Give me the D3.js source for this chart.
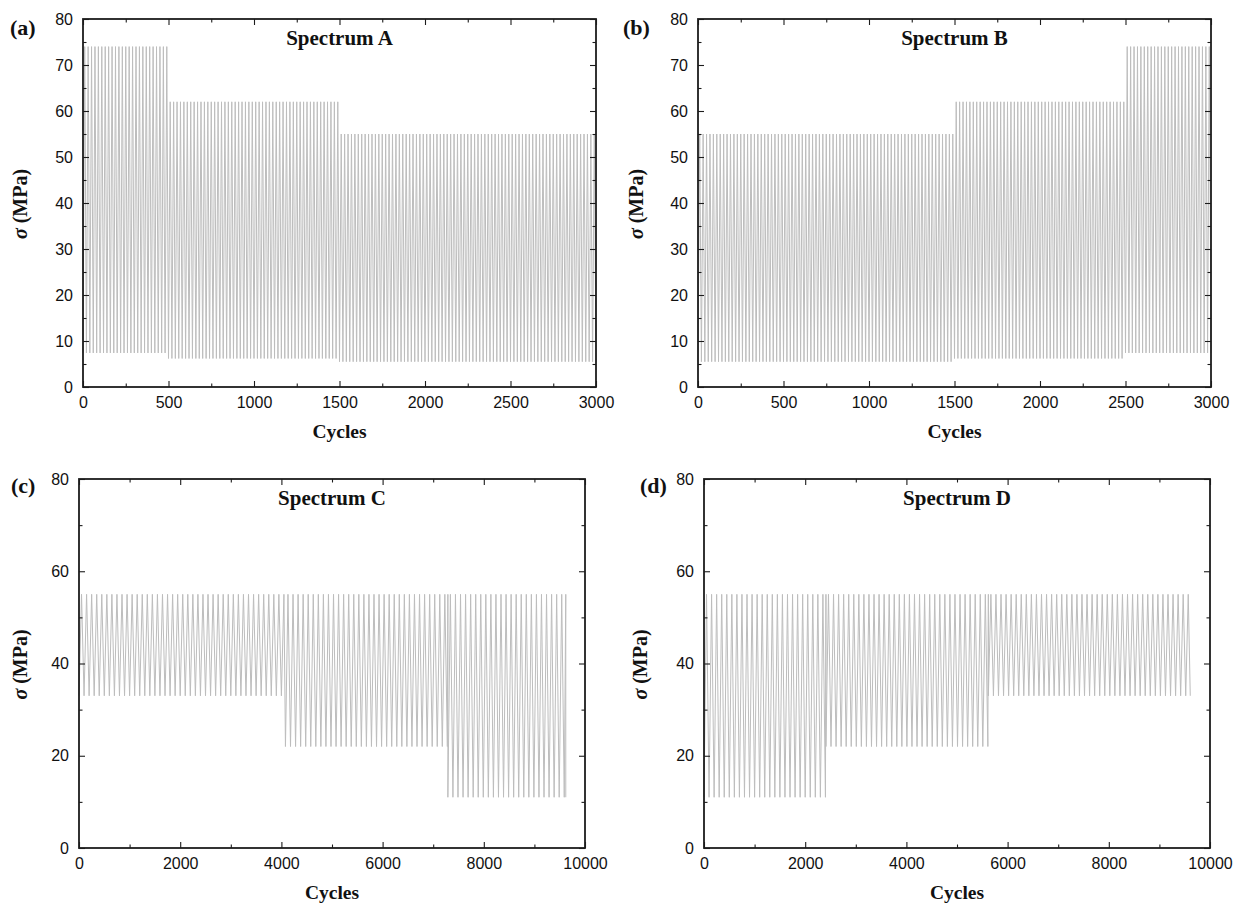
<!DOCTYPE html>
<html>
<head>
<meta charset="utf-8">
<script src="https://cdn.jsdelivr.net/npm/d3@7"></script>
<style>
  html, body { margin: 0; padding: 0; background: #fff; }
  svg { display: block; }
  .tick text { font-family: "Liberation Sans", Arial, sans-serif; font-size: 16px; fill: #111; }
  .serif { font-family: "Liberation Serif", "Times New Roman", serif; font-weight: bold; fill: #111; }
</style>
</head>
<body>
<svg id="chart" width="1240" height="905"></svg>
<script>
// Block loading spectra: each block runs up to its end cycle with constant max / min stress (MPa)
const spectrumA_blockEnds = [500, 1500, 3000];
const spectrumA_max = [74, 62, 55];
const spectrumA_min = [7.4, 6.2, 5.5];

const spectrumB_blockEnds = [1500, 2500, 3000];
const spectrumB_max = [55, 62, 74];
const spectrumB_min = [5.5, 6.2, 7.4];

const spectrumC_blockEnds = [4080, 7290, 9620];
const spectrumC_max = [55, 55, 55];
const spectrumC_min = [33, 22, 11];

const spectrumD_blockEnds = [2410, 5620, 9610];
const spectrumD_max = [55, 55, 55];
const spectrumD_min = [11, 22, 33];

// cycles represented by each drawn load reversal pair
const recordStepAB = 20;
const recordStepCD = 100;

const xTicksAB = [0, 500, 1000, 1500, 2000, 2500, 3000];
const xTicksCD = [0, 2000, 4000, 6000, 8000, 10000];
const yTicksAB = [0, 10, 20, 30, 40, 50, 60, 70, 80];
const yTicksCD = [0, 20, 40, 60, 80];

const panels = [
  { tag: "(a)", title: "Spectrum A", ends: spectrumA_blockEnds, max: spectrumA_max, min: spectrumA_min,
    step: recordStepAB, xMax: 3000, xTicks: xTicksAB, xMinor: 250, yTicks: yTicksAB, yMinor: 5,
    box: { l: 83, r: 596, t: 19, b: 387 }, tagPos: [10, 35], labelX: 27 },
  { tag: "(b)", title: "Spectrum B", ends: spectrumB_blockEnds, max: spectrumB_max, min: spectrumB_min,
    step: recordStepAB, xMax: 3000, xTicks: xTicksAB, xMinor: 250, yTicks: yTicksAB, yMinor: 5,
    box: { l: 698, r: 1211, t: 19, b: 387 }, tagPos: [623, 35], labelX: 643 },
  { tag: "(c)", title: "Spectrum C", ends: spectrumC_blockEnds, max: spectrumC_max, min: spectrumC_min,
    step: recordStepCD, xMax: 10000, xTicks: xTicksCD, xMinor: 1000, yTicks: yTicksCD, yMinor: 10,
    box: { l: 79, r: 585, t: 479, b: 848 }, tagPos: [11, 493], labelX: 27 },
  { tag: "(d)", title: "Spectrum D", ends: spectrumD_blockEnds, max: spectrumD_max, min: spectrumD_min,
    step: recordStepCD, xMax: 10000, xTicks: xTicksCD, xMinor: 1000, yTicks: yTicksCD, yMinor: 10,
    box: { l: 704, r: 1210, t: 479, b: 848 }, tagPos: [640, 493], labelX: 647 }
];

// Turn block definitions into an alternating min/max load history
function loadHistory(p) {
  const pts = [];
  let start = 0;
  p.ends.forEach((end, i) => {
    for (let c = start; c < end; c += p.step) {
      pts.push([c, p.min[i]]);
      pts.push([Math.min(c + p.step / 2, end), p.max[i]]);
    }
    start = end;
  });
  pts.push([start, p.min[p.min.length - 1]]);
  return pts;
}

const svg = d3.select("#chart");
const frameColor = "#1c1c1c";

panels.forEach(p => {
  const { l, r, t, b } = p.box;
  const w = r - l, h = b - t;
  const x = d3.scaleLinear().domain([0, p.xMax]).range([0, w]);
  const y = d3.scaleLinear().domain([0, 80]).range([h, 0]);
  const g = svg.append("g").attr("transform", `translate(${l},${t})`);

  // signal
  const line = d3.line().x(d => x(d[0])).y(d => y(d[1]));
  g.append("path")
    .datum(loadHistory(p))
    .attr("d", line)
    .attr("fill", "none")
    .attr("stroke", "#bdbdbd")
    .attr("stroke-width", 1);

  const minorX = d3.range(0, p.xMax + 1e-9, p.xMinor).filter(v => !p.xTicks.includes(v));
  const minorY = d3.range(0, 80 + 1e-9, p.yMinor).filter(v => !p.yTicks.includes(v));

  const styleAxis = sel => {
    sel.select(".domain").remove();
    sel.selectAll(".tick line").attr("stroke", frameColor).attr("stroke-width", 1.1);
  };

  // bottom axis (labelled) and top mirror
  g.append("g").attr("transform", `translate(0,${h})`)
    .call(d3.axisBottom(x).tickValues(p.xTicks).tickSize(-6).tickPadding(10).tickFormat(d3.format("d")))
    .call(styleAxis);
  g.append("g").attr("transform", `translate(0,${h})`)
    .call(d3.axisBottom(x).tickValues(minorX).tickSize(-3.5).tickFormat(""))
    .call(styleAxis);
  g.append("g")
    .call(d3.axisTop(x).tickValues(p.xTicks).tickSize(-6).tickFormat(""))
    .call(styleAxis);
  g.append("g")
    .call(d3.axisTop(x).tickValues(minorX).tickSize(-3.5).tickFormat(""))
    .call(styleAxis);

  // left axis (labelled) and right mirror
  g.append("g")
    .call(d3.axisLeft(y).tickValues(p.yTicks).tickSize(-6).tickPadding(10).tickFormat(d3.format("d")))
    .call(styleAxis);
  g.append("g")
    .call(d3.axisLeft(y).tickValues(minorY).tickSize(-3.5).tickFormat(""))
    .call(styleAxis);
  g.append("g").attr("transform", `translate(${w},0)`)
    .call(d3.axisRight(y).tickValues(p.yTicks).tickSize(-6).tickFormat(""))
    .call(styleAxis);
  g.append("g").attr("transform", `translate(${w},0)`)
    .call(d3.axisRight(y).tickValues(minorY).tickSize(-3.5).tickFormat(""))
    .call(styleAxis);

  g.selectAll(".tick text").attr("fill", "#111");

  // frame
  g.append("rect")
    .attr("x", 0).attr("y", 0).attr("width", w).attr("height", h)
    .attr("fill", "none").attr("stroke", frameColor).attr("stroke-width", 1.8);

  // panel tag and title
  svg.append("text").attr("class", "serif")
    .attr("x", p.tagPos[0]).attr("y", p.tagPos[1])
    .attr("font-size", 22).text(p.tag);
  svg.append("text").attr("class", "serif")
    .attr("x", l + w / 2).attr("y", t + 26)
    .attr("text-anchor", "middle").attr("font-size", 21).text(p.title);

  // axis titles
  svg.append("text").attr("class", "serif")
    .attr("x", l + w / 2).attr("y", b + 51)
    .attr("text-anchor", "middle").attr("font-size", 19.5).text("Cycles");
  const yl = svg.append("text").attr("class", "serif")
    .attr("transform", `translate(${p.labelX},${t + h / 2 + 1}) rotate(-90)`)
    .attr("text-anchor", "middle").attr("font-size", 20);
  yl.append("tspan").attr("font-style", "italic").text("σ");
  yl.append("tspan").text(" (MPa)");
});
</script>
</body>
</html>
